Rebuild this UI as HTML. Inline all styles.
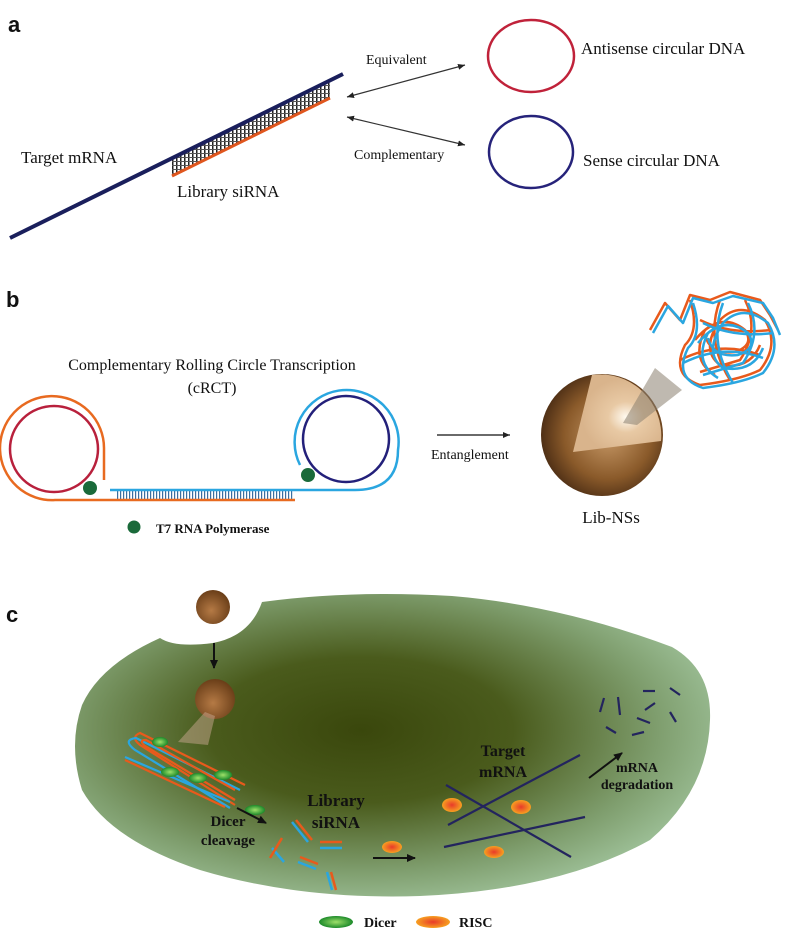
<!DOCTYPE html>
<html><head><meta charset="utf-8"><style>
html,body{margin:0;padding:0;background:#fff;}
svg{display:block;}
text{font-family:"Liberation Serif",serif;fill:#111;}
.lbl{font-family:"Liberation Sans",sans-serif;font-weight:bold;font-size:22px;}
</style></head><body>
<svg width="787" height="936" viewBox="0 0 787 936" xmlns="http://www.w3.org/2000/svg">
<defs>
<pattern id="hatch" width="4" height="4" patternUnits="userSpaceOnUse">
<rect width="4" height="4" fill="#fff"/><rect x="0" y="0" width="1.5" height="4" fill="#222"/><rect x="0" y="1" width="4" height="1" fill="#555"/>
</pattern>
<pattern id="h2" width="3" height="10" patternUnits="userSpaceOnUse"><rect width="1.2" height="10" fill="#3a6fa0"/></pattern>
<marker id="ah" markerWidth="8" markerHeight="8" refX="7" refY="4" orient="auto-start-reverse" markerUnits="userSpaceOnUse"><path d="M0,1 L7,4 L0,7 z" fill="#222"/></marker>
<marker id="ab" markerWidth="10" markerHeight="10" refX="8" refY="5" orient="auto" markerUnits="userSpaceOnUse"><path d="M0,1 L9,5 L0,9 z" fill="#111"/></marker>
<radialGradient id="sph" cx="0.55" cy="0.5" r="0.6"><stop offset="0" stop-color="#c89a68"/><stop offset="0.6" stop-color="#8a5a2a"/><stop offset="1" stop-color="#3f2410"/></radialGradient>
<radialGradient id="core" cx="0.6" cy="0.55" r="0.5"><stop offset="0" stop-color="#fffaf0"/><stop offset="0.4" stop-color="#e8c9a4"/><stop offset="1" stop-color="#d9b48c"/></radialGradient>
<radialGradient id="bead" cx="0.45" cy="0.6" r="0.6"><stop offset="0" stop-color="#b57a45"/><stop offset="1" stop-color="#6a3e18"/></radialGradient>
<radialGradient id="cell" cx="0.45" cy="0.45" r="0.6"><stop offset="0" stop-color="#3a470c"/><stop offset="0.4" stop-color="#4a5b1c"/><stop offset="0.78" stop-color="#7f9e6e"/><stop offset="1" stop-color="#9fc29a"/></radialGradient>
<radialGradient id="dic" cx="0.5" cy="0.5" r="0.5"><stop offset="0" stop-color="#9ee06a"/><stop offset="1" stop-color="#1c8a2a"/></radialGradient>
<radialGradient id="ris" cx="0.5" cy="0.5" r="0.5"><stop offset="0" stop-color="#e83a2a"/><stop offset="1" stop-color="#f7a020"/></radialGradient>
</defs>

<!-- Panel a -->
<text class="lbl" x="8" y="32">a</text>
<polygon points="172,159 330,81 330,98 172,176" fill="url(#hatch)"/>
<line x1="10" y1="238" x2="343" y2="74" stroke="#1a1f5c" stroke-width="4"/>
<line x1="172" y1="176" x2="330" y2="98" stroke="#e0561e" stroke-width="3"/>
<line x1="347" y1="97" x2="465" y2="65" stroke="#333" stroke-width="1.2" marker-start="url(#ah)" marker-end="url(#ah)"/>
<line x1="347" y1="117" x2="465" y2="145" stroke="#333" stroke-width="1.2" marker-start="url(#ah)" marker-end="url(#ah)"/>
<text x="366" y="64" font-size="14">Equivalent</text>
<text x="354" y="159" font-size="14">Complementary</text>
<ellipse cx="531" cy="56" rx="43" ry="36" fill="none" stroke="#c0223a" stroke-width="2.5"/>
<ellipse cx="531" cy="152" rx="42" ry="36" fill="none" stroke="#26237a" stroke-width="2.5"/>
<text x="581" y="54" font-size="17">Antisense circular DNA</text>
<text x="583" y="166" font-size="17">Sense circular DNA</text>
<text x="21" y="163" font-size="17">Target mRNA</text>
<text x="177" y="197" font-size="17">Library siRNA</text>

<!-- Panel b -->
<text class="lbl" x="6" y="307">b</text>
<text x="212" y="370" font-size="16" text-anchor="middle">Complementary Rolling Circle Transcription</text>
<text x="212" y="393" font-size="16" text-anchor="middle">(cRCT)</text>
<rect x="116" y="490" width="178" height="10" fill="url(#h2)"/>
<path d="M295,500 L55,500 A52,52 0 1 1 104,448 L104,480" fill="none" stroke="#e86a20" stroke-width="2.5"/>
<ellipse cx="54" cy="449" rx="44" ry="43" fill="none" stroke="#b8203c" stroke-width="2.5"/>
<path d="M110,490 L355,490 Q398,490 398,450 A52,52 0 1 0 300,465" fill="none" stroke="#2aa6e0" stroke-width="2.5"/>
<ellipse cx="346" cy="439" rx="43" ry="43" fill="none" stroke="#23207a" stroke-width="2.5"/>
<circle cx="90" cy="488" r="7" fill="#1a6a3a"/>
<circle cx="308" cy="475" r="7" fill="#1a6a3a"/>
<circle cx="134" cy="527" r="6.5" fill="#1a6a3a"/>
<text x="156" y="533" font-size="13" font-weight="bold">T7 RNA Polymerase</text>
<line x1="437" y1="435" x2="510" y2="435" stroke="#111" stroke-width="1.3" marker-end="url(#ah)"/>
<text x="431" y="459" font-size="14">Entanglement</text>
<circle cx="602" cy="435" r="61" fill="url(#sph)"/>
<path d="M592,375 L573,452 L661,441 A61,61 0 0 0 592,375 z" fill="url(#core)"/>
<polygon points="623,423 637,425 682,390 655,368" fill="#8a8070" opacity="0.55"/>
<text x="611" y="523" font-size="17" text-anchor="middle">Lib-NSs</text>
<g fill="none" stroke-width="2.5" stroke-linejoin="round">
<path d="M650,330 L665,303 L680,320 L690,295 L710,300 L730,292 L760,300 L770,315 L778,330 M690,300 Q700,330 685,345 Q670,375 700,385 Q740,380 760,370 Q780,345 765,320 Q740,300 720,320 Q700,350 720,365 Q750,370 760,345 M700,320 Q730,335 770,330 M680,360 Q720,340 760,355 M720,300 Q705,340 730,380 M745,300 Q760,330 740,360 L700,372 M695,340 Q720,310 745,330 Q755,345 735,352 Q710,355 705,335 M715,375 Q690,360 705,330" stroke="#e85a1c"/>
<path d="M653,333 L668,306 L683,323 L693,298 L713,303 L733,296 L763,303 L773,318 L780,335 M693,303 Q703,333 688,348 Q673,378 703,388 Q743,383 763,373 Q783,348 768,323 Q743,303 723,323 Q703,353 723,368 Q753,373 763,348 M703,323 Q733,338 773,333 M683,363 Q723,343 763,358 M723,303 Q708,343 733,383 M748,303 Q763,333 743,363 L703,375 M698,343 Q723,313 748,333 Q758,348 738,355 Q713,358 708,338 M718,378 Q693,363 708,333" stroke="#2aa6e0"/>
</g>

<!-- Panel c -->
<text class="lbl" x="6" y="622">c</text>
<path d="M160,638 Q175,648 213,643 Q250,636 262,602 Q350,590 452,596 Q560,605 672,647 Q712,670 710,720 Q708,790 650,840 Q560,890 420,896 Q300,900 200,870 Q110,840 82,790 Q68,745 82,705 Q100,665 160,638 z" fill="url(#cell)"/>
<circle cx="213" cy="607" r="17" fill="url(#bead)"/>
<line x1="214" y1="643" x2="214" y2="668" stroke="#111" stroke-width="2" marker-end="url(#ab)"/>
<circle cx="215" cy="699" r="20" fill="url(#bead)"/>
<polygon points="205,712 215,716 208,745 178,742" fill="#c8a890" opacity="0.5"/>
<g fill="none" stroke-width="2.2">
<path d="M235,805 L140,745 Q130,737 140,733 L245,785" stroke="#e85a1c"/>
<path d="M230,808 L135,750 Q122,740 136,738 L240,790" stroke="#2aa6e0"/>
<path d="M235,800 L145,746 Q138,740 146,740 L235,790" stroke="#e85a1c"/>
<path d="M230,802 L125,757" stroke="#2aa6e0"/>
<path d="M225,807 L125,760" stroke="#e85a1c"/>
</g>
<ellipse cx="160" cy="742" rx="8" ry="5" fill="url(#dic)"/>
<ellipse cx="170" cy="772" rx="9" ry="5" fill="url(#dic)"/>
<ellipse cx="198" cy="778" rx="9" ry="5" fill="url(#dic)"/>
<ellipse cx="223" cy="775" rx="9" ry="5" fill="url(#dic)"/>
<ellipse cx="255" cy="810" rx="10" ry="5" fill="url(#dic)"/>
<line x1="237" y1="808" x2="266" y2="823" stroke="#111" stroke-width="2" marker-end="url(#ab)"/>
<text x="228" y="826" font-size="15" font-weight="bold" text-anchor="middle">Dicer</text>
<text x="228" y="845" font-size="15" font-weight="bold" text-anchor="middle">cleavage</text>
<text x="336" y="806" font-size="17" font-weight="bold" text-anchor="middle">Library</text>
<text x="336" y="828" font-size="17" font-weight="bold" text-anchor="middle">siRNA</text>
<g stroke-width="2.5">
<line x1="292" y1="822" x2="308" y2="842" stroke="#2aa6e0"/><line x1="296" y1="820" x2="312" y2="840" stroke="#e85a1c"/>
<line x1="272" y1="848" x2="284" y2="862" stroke="#2aa6e0"/><line x1="270" y1="858" x2="282" y2="838" stroke="#e85a1c"/>
<line x1="320" y1="842" x2="342" y2="842" stroke="#e85a1c"/><line x1="320" y1="848" x2="342" y2="848" stroke="#2aa6e0"/>
<line x1="300" y1="857" x2="318" y2="864" stroke="#e85a1c"/><line x1="298" y1="862" x2="316" y2="869" stroke="#2aa6e0"/>
<line x1="327" y1="872" x2="332" y2="890" stroke="#2aa6e0"/><line x1="331" y1="872" x2="336" y2="890" stroke="#e85a1c"/>
</g>
<ellipse cx="392" cy="847" rx="10" ry="6" fill="url(#ris)"/>
<line x1="373" y1="858" x2="415" y2="858" stroke="#111" stroke-width="2" marker-end="url(#ab)"/>
<g stroke="#23245e" stroke-width="2.2">
<line x1="448" y1="825" x2="580" y2="755"/>
<line x1="446" y1="785" x2="571" y2="857"/>
<line x1="444" y1="847" x2="585" y2="817"/>
</g>
<ellipse cx="452" cy="805" rx="10" ry="7" fill="url(#ris)"/>
<ellipse cx="521" cy="807" rx="10" ry="7" fill="url(#ris)"/>
<ellipse cx="494" cy="852" rx="10" ry="6" fill="url(#ris)"/>
<text x="503" y="756" font-size="16" font-weight="bold" text-anchor="middle">Target</text>
<text x="503" y="777" font-size="16" font-weight="bold" text-anchor="middle">mRNA</text>
<line x1="589" y1="778" x2="622" y2="753" stroke="#111" stroke-width="2" marker-end="url(#ab)"/>
<text x="637" y="772" font-size="14" font-weight="bold" text-anchor="middle">mRNA</text>
<text x="637" y="789" font-size="14" font-weight="bold" text-anchor="middle">degradation</text>
<g stroke="#23245e" stroke-width="2.2">
<line x1="600" y1="712" x2="604" y2="698"/><line x1="618" y1="697" x2="620" y2="715"/>
<line x1="643" y1="691" x2="655" y2="691"/><line x1="670" y1="688" x2="680" y2="695"/>
<line x1="645" y1="710" x2="655" y2="703"/><line x1="637" y1="718" x2="650" y2="723"/>
<line x1="670" y1="712" x2="676" y2="722"/><line x1="606" y1="727" x2="616" y2="733"/>
<line x1="632" y1="735" x2="644" y2="732"/>
</g>
<ellipse cx="336" cy="922" rx="17" ry="6" fill="url(#dic)"/>
<text x="364" y="927" font-size="14" font-weight="bold">Dicer</text>
<ellipse cx="433" cy="922" rx="17" ry="6" fill="url(#ris)"/>
<text x="459" y="927" font-size="14" font-weight="bold">RISC</text>
</svg>
</body></html>
